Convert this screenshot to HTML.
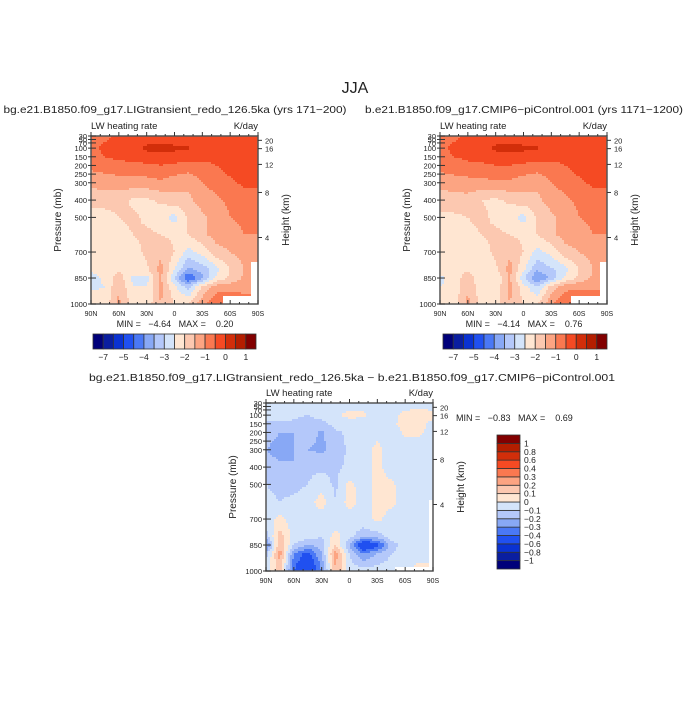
<!DOCTYPE html>
<html><head><meta charset="utf-8"><style>
html,body{margin:0;padding:0;background:#fff;}
svg text{font-family:"Liberation Sans",sans-serif;fill:#222;}
</style></head><body>
<svg id="root" width="700" height="700" viewBox="0 0 700 700" xmlns="http://www.w3.org/2000/svg">
<rect width="700" height="700" fill="#fff"/>
<text x="355" y="93" font-size="16" text-anchor="middle">JJA</text>
<g id="panels"></g>
</svg>
<script>
// ---- data ----
const lats = ['90N','75N','60N','45N','30N','15N','0','15S','30S','45S','60S','75S','90S'];
const pressures = [30,100,150,200,300,400,500,600,700,800,850,900,1000];
const xTickLabels = ['90N','60N','30N','0','30S','60S','90S'];
const pTickLabels = [30,50,70,100,150,200,250,300,400,500,700,850,1000];
const heightTickLabels = [4,8,12,16,20];
const heightTickPressures = [616,356,194,103,55];
const levelsAbs = [-7,-6,-5,-4.5,-4,-3.5,-3,-2.5,-2,-1.5,-1,-0.5,0,0.5,1];
const levelsAbsLabels = ['-7','','-5','','-4','','-3','','-2','','-1','','0','','1'];
const levelsDiff = [-1,-0.8,-0.6,-0.4,-0.3,-0.2,-0.1,0,0.1,0.2,0.3,0.4,0.6,0.8,1];
const colors = ['#00007a','#0a1ea0','#0a32d2','#2050f0','#4a78f5','#88a8f5','#b4c8fa','#d4e4fa','#ffe6d2','#fcc8b0','#fca482','#fa7850','#f54a23','#d22e0a','#b41e00','#820000'];
const lig = [
[-0.7,-0.6,-0.4,-0.3,-0.3,-0.3,-0.3,-0.3,-0.4,-0.5,-0.3,-0.3,-0.3],
[-0.6,-0.4,-0.3,-0.2,0.1,0.15,0.1,0.05,-0.2,-0.4,-0.2,-0.2,-0.2],
[-0.7,-0.5,-0.4,-0.3,-0.2,-0.2,-0.2,-0.3,-0.4,-0.4,-0.3,-0.2,-0.2],
[-0.85,-0.75,-0.65,-0.65,-0.6,-0.5,-0.6,-0.7,-0.6,-0.5,-0.3,-0.3,-0.3],
[-1.35,-1.3,-1.25,-1.2,-1.2,-1.1,-1.3,-1.4,-1.0,-0.8,-0.6,-0.4,-0.4],
[-1.8,-1.8,-1.8,-2.1,-2.1,-1.9,-1.7,-1.6,-1.3,-1.1,-0.9,-0.8,-0.8],
[-2.2,-2.2,-2.0,-1.9,-2.1,-2.3,-2.7,-1.9,-1.6,-1.3,-1.0,-0.9,-0.9],
[-2.2,-2.2,-2.2,-2.0,-1.9,-2.0,-2.1,-2.0,-1.6,-1.3,-1.2,-1.0,-1.0],
[-2.2,-2.2,-2.2,-2.2,-1.9,-1.6,-2.0,-2.7,-2.3,-1.7,-1.5,-1.3,-1.2],
[-2.4,-2.3,-2.1,-2.3,-2.1,-1.3,-2.5,-3.6,-3.3,-2.7,-2.0,-1.5,-1.4],
[-2.7,-2.4,-1.7,-2.6,-2.7,-1.4,-3.0,-4.6,-3.6,-2.4,-1.9,-1.4,-1.3],
[-2.6,-2.5,-1.5,-2.5,-2.5,-1.3,-2.4,-3.2,-1.9,-1.3,-1.2,-1.2,-1.2],
[-2.2,-2.3,-1.4,-2.2,-2.3,-1.5,-2.0,-2.0,-1.2,-0.5,-0.4,-0.7,-0.7]];
const ctl = [
[-0.7,-0.6,-0.4,-0.3,-0.3,-0.3,-0.3,-0.3,-0.4,-0.5,-0.3,-0.3,-0.3],
[-0.6,-0.4,-0.3,-0.2,0.1,0.15,0.1,0.05,-0.2,-0.4,-0.2,-0.2,-0.2],
[-0.7,-0.5,-0.4,-0.3,-0.2,-0.2,-0.2,-0.3,-0.4,-0.4,-0.3,-0.2,-0.2],
[-0.8,-0.7,-0.6,-0.6,-0.5,-0.5,-0.6,-0.7,-0.6,-0.5,-0.3,-0.3,-0.3],
[-1.3,-1.25,-1.2,-1.15,-1.1,-1.1,-1.3,-1.4,-1.0,-0.8,-0.6,-0.4,-0.4],
[-1.8,-1.7,-1.7,-2.0,-2.1,-1.9,-1.7,-1.6,-1.3,-1.1,-0.9,-0.8,-0.8],
[-2.1,-2.1,-2.0,-1.9,-2.1,-2.3,-2.7,-1.9,-1.6,-1.3,-1.0,-0.9,-0.9],
[-2.2,-2.1,-2.1,-2.0,-1.9,-2.0,-2.1,-2.0,-1.6,-1.3,-1.2,-1.0,-1.0],
[-2.2,-2.2,-2.2,-2.2,-1.9,-1.6,-2.0,-2.7,-2.3,-1.7,-1.5,-1.3,-1.2],
[-2.3,-2.2,-2.1,-2.2,-2.1,-1.3,-2.4,-3.4,-3.1,-2.7,-2.0,-1.5,-1.4],
[-2.6,-2.3,-1.7,-2.4,-2.5,-1.4,-2.9,-4.1,-3.3,-2.4,-1.9,-1.4,-1.3],
[-2.5,-2.4,-1.5,-2.4,-2.4,-1.3,-2.3,-3.0,-1.8,-1.2,-1.1,-1.1,-1.1],
[-2.2,-2.2,-1.4,-2.2,-2.3,-1.5,-2.0,-2.0,-1.1,-0.5,-0.4,-0.6,-0.6]];
const diff = [
[-0.05,-0.05,-0.05,-0.05,-0.05,-0.05,-0.05,-0.05,-0.05,-0.05,-0.05,-0.05,-0.05],
[-0.05,-0.05,-0.08,-0.1,-0.05,-0.02,0.03,0.02,-0.05,-0.03,0.03,0.05,0.03],
[-0.12,-0.12,-0.12,-0.15,-0.15,-0.05,-0.05,-0.05,-0.05,-0.02,0.03,0.04,-0.03],
[-0.15,-0.2,-0.2,-0.15,-0.22,-0.12,-0.08,-0.05,-0.03,-0.05,0.02,0.02,-0.05],
[-0.2,-0.25,-0.2,-0.2,-0.22,-0.15,-0.08,-0.05,0.03,-0.05,-0.05,-0.05,-0.05],
[-0.15,-0.17,-0.2,-0.12,-0.12,-0.12,-0.08,-0.05,0.03,-0.05,-0.05,-0.05,-0.05],
[-0.1,-0.12,-0.13,-0.1,-0.05,-0.12,0.03,-0.05,0.03,0.02,-0.05,-0.05,-0.05],
[-0.08,-0.1,-0.08,-0.05,0.05,-0.1,0.05,-0.05,0.04,0.03,-0.05,-0.05,-0.05],
[-0.05,0.03,-0.05,-0.05,-0.05,-0.1,-0.05,-0.05,0.03,-0.05,-0.05,-0.05,-0.05],
[-0.15,0.15,-0.05,-0.05,-0.1,0.05,-0.08,-0.15,-0.15,-0.05,-0.05,-0.05,-0.05],
[-0.35,0.2,-0.1,-0.2,-0.15,0.1,-0.2,-0.6,-0.45,-0.15,-0.05,-0.05,-0.05],
[-0.15,0.25,-0.3,-0.45,-0.2,0.25,-0.1,-0.3,-0.2,-0.1,-0.05,-0.05,-0.05],
[-0.05,0.15,-0.4,-0.6,-0.3,0.2,-0.05,-0.05,-0.05,-0.05,-0.05,0.05,0.05]];

const NS='http://www.w3.org/2000/svg';
const root=document.getElementById('panels');
function mk(tag,attrs,parent){const e=document.createElementNS(NS,tag);for(const k in attrs)e.setAttribute(k,attrs[k]);(parent||root).appendChild(e);return e;}
function colorIdx(v,levels){let i=0;while(i<levels.length&&levels[i]<=v)i++;return i;}
function sample(grid,lf,p){
  let r=0;while(r<pressures.length-2&&pressures[r+1]<p)r++;
  const t=Math.max(0,Math.min(1,(p-pressures[r])/(pressures[r+1]-pressures[r])));
  lf=Math.max(0,Math.min(12,lf));
  const c=Math.min(11,Math.floor(lf));const s=lf-c;
  const a=grid[r][c]*(1-s)+grid[r][c+1]*s;
  const b=grid[r+1][c]*(1-s)+grid[r+1][c+1]*s;
  return a*(1-t)+b*t;
}

function panel(o){
  const g=mk('g',{});
  
  
  const X0=o.x,X1=o.x+167,Y0=o.y,Y1=o.y+168;
  const yOf=p=>Y1-(1000-p)*(Y1-Y0)/970;
  const xOf=f=>X0+f*(X1-X0);
  const fld=mk('g',{},g);
  
  
  const step=2;
  for(let y=Y0;y<Y1;y+=step){
    const p=1000-(Y1-(y+step/2))*970/(Y1-Y0);
    let runStart=X0,runC=-1;
    for(let x=X0;;x+=step){
      const done=x>=X1;
      let c=-2;
      if(!done){const lf=((x+step/2)-X0)/(X1-X0)*12;c=colorIdx(sample(o.grid,lf,p),o.levels);}
      if(c!==runC){
        if(runC>=0){const r=mk('rect',{x:runStart,y:y,width:Math.min(x,X1)-runStart+0.5,height:Math.min(step+0.5,Y1-y),fill:colors[runC]},fld);
          
          }
        runStart=x;runC=c;
      }
      if(done)break;
    }
  }
  if(o.mask){for(const m of o.mask){const r=mk('rect',{x:m[0],y:m[1],width:m[2],height:m[3],fill:'#fff'},g);
    
    }}
  const fr=mk('rect',{x:X0,y:Y0,width:X1-X0,height:Y1-Y0,fill:'none',stroke:'#555','stroke-width':1.5},g);
  
  
  for(let i=0;i<=18;i++){const x=xOf(i/18);const len=(i%3===0)?4:2;
    mk('line',{x1:x,x2:x,y1:Y1,y2:Y1-len,stroke:'#333','stroke-width':1},g);
    mk('line',{x1:x,x2:x,y1:Y0,y2:Y0-len,stroke:'#333','stroke-width':1},g);}
  xTickLabels.forEach((l,i)=>{const t=mk('text',{x:xOf(i/6),y:Y1+12,'font-size':7,'text-anchor':'middle'},g);t.textContent=l;
    
    });
  pTickLabels.forEach(p=>{const y=yOf(p);mk('line',{x1:X0,x2:X0+5,y1:y,y2:y,stroke:'#333','stroke-width':1},g);
    mk('line',{x1:X0,x2:X0-3,y1:y,y2:y,stroke:'#333','stroke-width':1},g);
    const t=mk('text',{x:X0-4,y:y+3,'font-size':7.5,'text-anchor':'end'},g);t.textContent=p;
    
    });
  heightTickLabels.forEach((h,i)=>{const y=yOf(heightTickPressures[i]);mk('line',{x1:X1,x2:X1+4,y1:y,y2:y,stroke:'#333','stroke-width':1},g);
    const t=mk('text',{x:X1+7,y:y+3,'font-size':7.5},g);t.textContent=h;
    
    });
  let t=mk('text',{x:X0-30,y:(Y0+Y1)/2,'font-size':10,'text-anchor':'middle',transform:`rotate(-90 ${X0-30} ${(Y0+Y1)/2})`},g);t.textContent='Pressure (mb)';
  
  
  t=mk('text',{x:X1+31,y:(Y0+Y1)/2,'font-size':10,'text-anchor':'middle',transform:`rotate(-90 ${X1+31} ${(Y0+Y1)/2})`},g);t.textContent='Height (km)';
  
  
  t=mk('text',{x:X0,y:Y0-7,'font-size':9.5},g);t.textContent='LW heating rate';
  
  
  t=mk('text',{x:X1,y:Y0-7,'font-size':9.5,'text-anchor':'end'},g);t.textContent='K/day';
  
  
  t=mk('text',{x:o.titleX,y:o.titleY,'font-size':10,'text-anchor':'middle',textLength:o.titleLen,lengthAdjust:'spacingAndGlyphs'},g);t.textContent=o.title;
  
  
  t=mk('text',{x:o.mmX,y:o.mmY,'font-size':9,'text-anchor':o.mmAnchor},g);t.textContent=o.minmax;
  
  
}

function hbar(x0,x1,y0,y1){
  const g=mk('g',{});
  
  
  const w=(x1-x0)/colors.length;
  colors.forEach((c,i)=>{const r=mk('rect',{x:x0+i*w,y:y0,width:w,height:y1-y0,fill:c,stroke:'#333','stroke-width':0.8},g);
    
    });
  levelsAbsLabels.forEach((l,i)=>{if(!l)return;const t=mk('text',{x:x0+(i+1)*w,y:y1+11,'font-size':8.5,'text-anchor':'middle'},g);t.textContent=l.replace('-','\u2212');
    
    });
}
function vbar(x0,x1,y0,y1){
  const g=mk('g',{});
  
  
  const h=(y1-y0)/colors.length;
  colors.forEach((c,i)=>{const r=mk('rect',{x:x0,y:y1-(i+1)*h,width:x1-x0,height:h,fill:c,stroke:'#333','stroke-width':0.8},g);
    
    });
  levelsDiff.forEach((l,i)=>{const t=mk('text',{x:x1+4,y:y1-(i+1)*h+3,'font-size':8.5},g);t.textContent=String(l).replace('-','\u2212');
    
    });
}
const S='\u00a0';
panel({name:'lig-panel',x:91,y:136,grid:lig,levels:levelsAbs,title:'bg.e21.B1850.f09_g17.LIGtransient_redo_126.5ka (yrs 171\u2212200)',titleX:175,titleY:113,titleLen:343,minmax:'MIN ='+S+S+S+'\u22124.64'+S+S+S+'MAX ='+S+S+S+S+'0.20',mmX:175,mmY:327,mmAnchor:'middle',mask:[[223,296,35,8],[251,262,7,42]]});
panel({name:'picontrol-panel',x:440,y:136,grid:ctl,levels:levelsAbs,title:'b.e21.B1850.f09_g17.CMIP6\u2212piControl.001 (yrs 1171\u22121200)',titleX:524,titleY:113,titleLen:318,minmax:'MIN ='+S+S+S+'\u22124.14'+S+S+S+'MAX ='+S+S+S+S+'0.76',mmX:524,mmY:327,mmAnchor:'middle',mask:[[571,296,36,8],[600,262,7,42]]});
panel({name:'difference-panel',x:266,y:403,grid:diff,levels:levelsDiff,title:'bg.e21.B1850.f09_g17.LIGtransient_redo_126.5ka \u2212 b.e21.B1850.f09_g17.CMIP6\u2212piControl.001',titleX:352,titleY:381,titleLen:526,minmax:'MIN ='+S+S+S+'\u22120.83'+S+S+S+'MAX ='+S+S+S+S+'0.69',mmX:456,mmY:421,mmAnchor:'start',mask:[[395,567,38,4],[429,500,4,67]]});
hbar(93,256,334,349);
hbar(443,607,334,349);
vbar(497,520,435,569);
</script>
</body></html>
